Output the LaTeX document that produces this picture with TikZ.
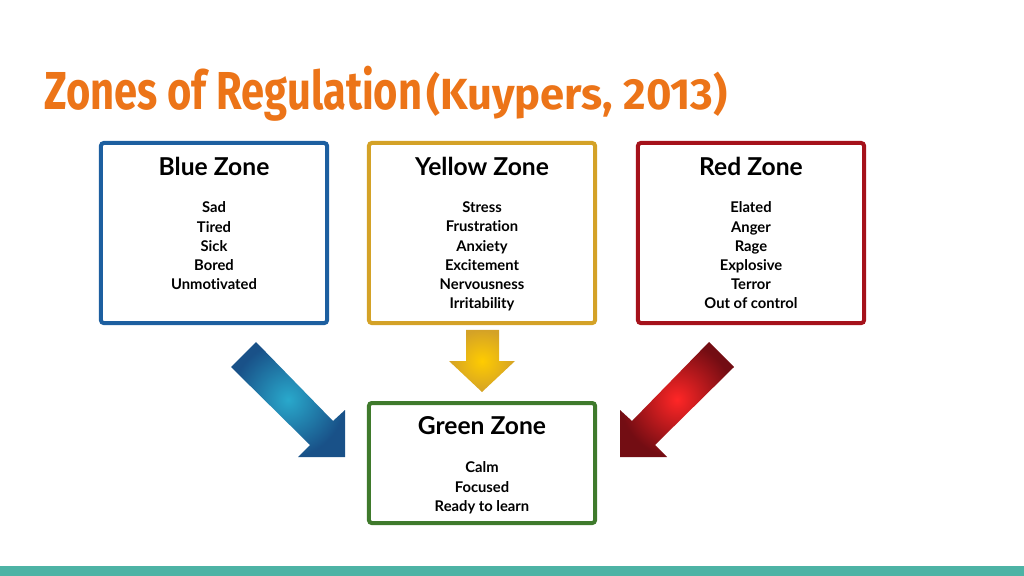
\documentclass[tikz,border=0pt]{standalone}
\usepackage{fontspec}
\setmainfont{Lato}[Ligatures=NoCommon]
\newfontfamily\titlefont{Fira Sans}
\usetikzlibrary{positioning}
\definecolor{ZoneBlue}{HTML}{1D5FA0}
\definecolor{ZoneYellow}{HTML}{D4A227}
\definecolor{ZoneRed}{HTML}{A5121B}
\definecolor{ZoneGreen}{HTML}{3F7A2C}
\definecolor{TitleOrange}{HTML}{EC7418}
\definecolor{BarTeal}{HTML}{4DB3A5}
\tikzset{
  zonebox/.style={draw, line width=0.1cm, rounded corners=2pt, minimum width=5.65cm, anchor=north},
  zonehead/.style={font=\bfseries\fontsize{17.5}{20}\selectfont, anchor=north},
  zonelist/.style={font=\bfseries\fontsize{10.5}{13.6}\selectfont, align=center, anchor=north}
}
\begin{document}
\begin{tikzpicture}[x=0.025cm,y=-0.025cm]
    \useasboundingbox (0,0) rectangle (1024,576);
    \fill[BarTeal] (0,566) rectangle (1024,576);
    %%Title
    \node[anchor=base west, text=TitleOrange, inner sep=0] (title) at (44,110)
      {\titlefont\scalebox{0.78}[1]{\bfseries\fontsize{38}{40}\selectfont Zones of Regulation}\ \fontsize{31}{34}\selectfont\bfseries(Kuypers, 2013)};
    %%Zone boxes
    \node[zonebox, draw=ZoneBlue, minimum height=4.5cm] (blue) at (214,141) {};
    \node[zonebox, draw=ZoneYellow, minimum height=4.5cm] (yellow) at (482,141) {};
    \node[zonebox, draw=ZoneRed, minimum height=4.5cm] (red) at (751,141) {};
    \node[zonebox, draw=ZoneGreen, minimum height=3cm] (green) at (482,401) {};
    %%Headings
    \node[zonehead] (bluehead) at (214,152) {Blue Zone};
    \node[zonehead] (yellowhead) at (482,152) {Yellow Zone};
    \node[zonehead] (redhead) at (751,152) {Red Zone};
    \node[zonehead] (greenhead) at (482,412) {Green Zone};
    %%Lists
    \node[zonelist] (bluelist) at (214,197) {Sad\\Tired\\Sick\\Bored\\Unmotivated};
    \node[zonelist] (yellowlist) at (482,197) {Stress\\Frustration\\Anxiety\\Excitement\\Nervousness\\Irritability};
    \node[zonelist] (redlist) at (751,197) {Elated\\Anger\\Rage\\Explosive\\Terror\\Out of control};
    \node[zonelist] (greenlist) at (482,457) {Calm\\Focused\\Ready to learn};
    %%Blue arrow
    \shade[inner color=ZoneBlue!60!cyan!90!white, outer color=ZoneBlue!85!black]
      (231,367) -- (256,342) -- (333,421) -- (345,410) -- (345,457) -- (298,457) -- (310,445) -- cycle;
    %%Yellow arrow
    \shade[inner color=yellow!60!orange, outer color=ZoneYellow]
      (466,330) -- (499,330) -- (499,361) -- (515,361) -- (482,392) -- (449,361) -- (466,361) -- cycle;
    %%Red arrow
    \shade[inner color=red!85!white, outer color=ZoneRed!70!black]
      (734,367) -- (709,342) -- (632,421) -- (620,410) -- (620,457) -- (667,457) -- (655,445) -- cycle;
\end{tikzpicture}
\end{document}
